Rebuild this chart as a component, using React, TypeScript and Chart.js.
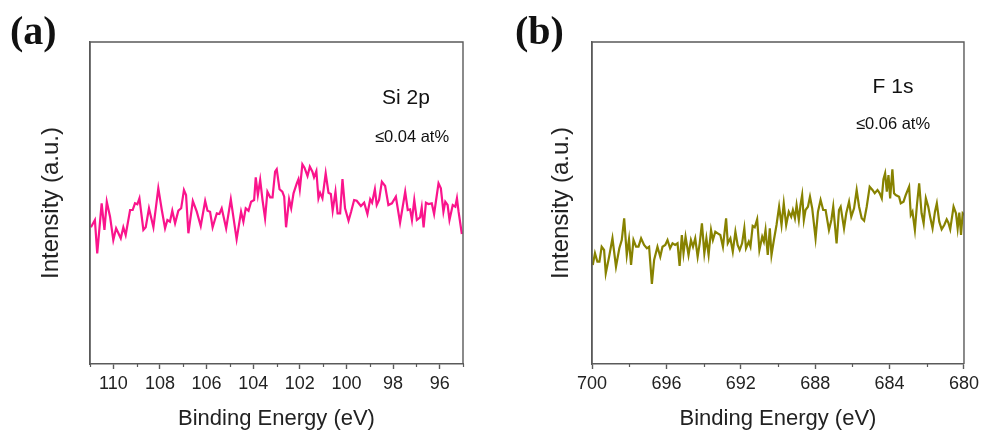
import React, { useEffect, useRef } from "react";
import { Chart, registerables } from "chart.js";

Chart.register(...registerables);

// Panel (a): Si 2p — binding energy (eV) and intensity (a.u.)
const siEnergy = [
  110.96, 110.79, 110.69, 110.5, 110.38, 110.28, 110.14, 110.0, 109.88, 109.68,
  109.57, 109.47, 109.28, 109.17, 109.07, 108.97, 108.88, 108.71, 108.61, 108.47,
  108.28, 108.07, 107.92, 107.78, 107.68, 107.57, 107.47, 107.35, 107.21, 107.09,
  106.97, 106.88, 106.78, 106.59, 106.42, 106.25, 106.06, 105.96, 105.85, 105.74,
  105.56, 105.45, 105.35, 105.16, 104.96, 104.71, 104.52, 104.42, 104.32, 104.2,
  104.09, 103.96, 103.89, 103.8, 103.7, 103.6, 103.49, 103.39, 103.27, 103.17,
  103.06, 102.99, 102.87, 102.75, 102.67, 102.59, 102.46, 102.37, 102.27, 102.13,
  102.06, 102.0, 101.89, 101.8, 101.67, 101.57, 101.46, 101.39, 101.29, 101.2,
  101.13, 101.03, 100.89, 100.77, 100.67, 100.59, 100.47, 100.38, 100.27, 100.17,
  100.06, 99.91, 99.8, 99.67, 99.56, 99.38, 99.24, 99.1, 98.98, 98.9,
  98.78, 98.7, 98.6, 98.48, 98.34, 98.2, 98.05, 97.88, 97.7, 97.48,
  97.37, 97.27, 97.19, 97.09, 96.98, 96.84, 96.77, 96.69, 96.59, 96.48,
  96.34, 96.24, 96.05, 95.95, 95.84, 95.76, 95.66, 95.58, 95.44, 95.33,
  95.26, 95.19, 95.05,
];
const siIntensity = [
  136.7, 144, 110.7, 160.7, 134, 162.3, 147.3, 124, 135.7, 125.7,
  136.7, 129, 154, 154, 160.7, 159.7, 165.7, 134, 136.7, 155.7,
  136.7, 175.7, 154, 135.7, 144, 142.3, 153.3, 140.7, 153.3, 155.7,
  174, 169, 130.7, 163, 152.3, 138, 163, 153.3, 152.3, 136.7,
  150.7, 150, 155.7, 135.7, 164.7, 124.7, 152.3, 142.3, 155.7, 153.3,
  162.3, 164, 186.7, 169, 184, 164, 145.7, 172.3, 166.7, 166.7,
  192.3, 194.7, 174.7, 172.3, 167.3, 136.7, 164.7, 155.7, 170.7, 180.7,
  184.7, 174.7, 199.7, 196.3, 188, 197.3, 192.3, 186.7, 193, 165.7,
  171.3, 165.7, 190.7, 171.3, 170, 153.3, 172.3, 150.7, 150.7, 185,
  155.7, 143.3, 152.3, 164, 163.3, 158, 161.3, 150, 164.7, 161.3,
  174.7, 159, 164, 182.3, 178, 159, 160.7, 167.3, 141.3, 172.3,
  154, 154.7, 144, 164, 144, 146.7, 156.7, 136.7, 161.3, 160,
  160.7, 150, 180.7, 175.7, 152.3, 162.3, 159, 144, 159, 157.3,
  165.7, 152.3, 130,
];
const siTicks = [110, 108, 106, 104, 102, 100, 98, 96];
const siMinorTicks = [111, 109, 107, 105, 103, 101, 99, 97, 95];

// Panel (b): F 1s
const fEnergy = [
  699.96, 699.84, 699.71, 699.6, 699.48, 699.35, 699.26, 699.08, 698.9, 698.71,
  698.53, 698.4, 698.27, 698.13, 698.01, 697.9, 697.77, 697.63, 697.5, 697.36,
  697.2, 697.05, 696.93, 696.78, 696.66, 696.48, 696.33, 696.21, 696.06, 695.94,
  695.8, 695.67, 695.53, 695.4, 695.29, 695.17, 695.08, 694.97, 694.81, 694.68,
  694.57, 694.45, 694.32, 694.21, 694.09, 693.96, 693.85, 693.73, 693.6, 693.5,
  693.37, 693.24, 693.1, 692.96, 692.79, 692.7, 692.56, 692.43, 692.29, 692.17,
  692.06, 691.93, 691.81, 691.72, 691.57, 691.48, 691.36, 691.25, 691.12, 691.0,
  690.85, 690.76, 690.67, 690.55, 690.44, 690.35, 690.22, 690.08, 689.94, 689.81,
  689.69, 689.56, 689.42, 689.29, 689.2, 689.09, 689.0, 688.88, 688.79, 688.7,
  688.61, 688.52, 688.39, 688.28, 688.16, 687.98, 687.85, 687.71, 687.57, 687.44,
  687.26, 687.13, 687.03, 686.85, 686.72, 686.63, 686.45, 686.33, 686.18, 686.06,
  685.91, 685.77, 685.64, 685.5, 685.37, 685.23, 685.07, 684.92, 684.8, 684.65,
  684.53, 684.42, 684.33, 684.24, 684.15, 684.06, 683.97, 683.85, 683.76, 683.67,
  683.49, 683.4, 683.25, 683.13, 682.95, 682.86, 682.77, 682.64, 682.53, 682.41,
  682.28, 682.17, 682.05, 681.92, 681.82, 681.69, 681.56, 681.46, 681.33, 681.2,
  681.06, 680.93, 680.84, 680.74, 680.56, 680.43, 680.34, 680.25, 680.16, 680.07,
  679.98,
];
const fIntensity = [
  99, 110.7, 102.3, 102.3, 117.3, 114, 90.7, 107.3, 125.7, 97.3,
  115.7, 124, 145.7, 109, 124.7, 99, 124, 117.3, 117.3, 125.7,
  119, 115.7, 117.3, 80, 104, 117.3, 107.3, 117.3, 119, 124,
  115.7, 120.7, 119, 120.7, 98, 129, 110.7, 127.3, 109, 124,
  117.3, 125.7, 107.3, 120.7, 140.7, 110.7, 125.7, 109, 134, 124,
  132.3, 130.7, 129, 117.3, 145.7, 120.7, 125.7, 112.3, 132.3, 119,
  114, 120.7, 135.7, 115.7, 122.3, 117.3, 138, 136.7, 144.7, 114,
  127.3, 122.3, 134, 109, 135.7, 109, 124, 139, 157.3, 139,
  160.7, 139, 152.3, 147.3, 154, 145.7, 159, 144, 159, 169,
  144, 154, 157.3, 167.3, 155.7, 125.7, 152.3, 164, 154, 154,
  134, 144, 157.3, 120.7, 154, 157.3, 135.7, 150.7, 162.3, 147.3,
  155.7, 174, 157.3, 145.7, 143.3, 157.3, 177.3, 174, 170.7, 174,
  170.7, 165.7, 184.7, 190.7, 172.3, 189, 165.7, 194.7, 170.7, 169,
  167.3, 160.7, 162.3, 169, 177.3, 149, 152.3, 134, 159, 180.7,
  150.7, 140.7, 165.7, 157.3, 147.3, 135.7, 152.3, 160.7, 142.3, 134.7,
  139, 144.7, 141.3, 134.7, 157.3, 150.7, 135.7, 151.3, 129, 150.7,
  149,
];
const fTicks = [700, 696, 692, 688, 684, 680];
const fMinorTicks = [698, 694, 690, 686, 682];

const AXIS_COLOR = "#5a5a5a";
const SANS = "Arial, 'Liberation Sans', sans-serif";

const frameAndMinor = {
  id: "frameAndMinor",
  afterDraw(chart: any, _args: any, opts: any) {
    const { ctx, chartArea } = chart;
    const xs = chart.scales.x;
    ctx.save();
    ctx.strokeStyle = AXIS_COLOR;
    ctx.lineWidth = 1.4;
    ctx.beginPath();
    ctx.moveTo(chartArea.left, chartArea.bottom);
    ctx.lineTo(chartArea.left, chartArea.top);
    ctx.lineTo(chartArea.right, chartArea.top);
    ctx.lineTo(chartArea.right, chartArea.bottom);
    ctx.stroke();
    ctx.lineWidth = 1.2;
    ctx.beginPath();
    for (const v of opts.minor || []) {
      const px = Math.round(xs.getPixelForValue(v)) + 0.5;
      ctx.moveTo(px, chartArea.bottom);
      ctx.lineTo(px, chartArea.bottom + 3);
    }
    ctx.stroke();
    ctx.restore();
  },
};

type PanelProps = {
  energy: number[];
  intensity: number[];
  color: string;
  xMin: number;
  xMax: number;
  ticks: number[];
  minor: number[];
  yAxisWidth: number;
  rightPad: number;
  titlePad: number;
  width: number;
};

function Panel(p: PanelProps) {
  const ref = useRef<HTMLCanvasElement>(null);
  useEffect(() => {
    const data = p.energy.map((e, i) => ({ x: e, y: p.intensity[i] }));
    const chart = new Chart(ref.current as HTMLCanvasElement, {
      type: "line",
      data: {
        datasets: [
          {
            data,
            borderColor: p.color,
            borderWidth: 2.2,
            pointRadius: 0,
            tension: 0,
            fill: false,
          },
        ],
      },
      options: {
        animation: false,
        responsive: false,
        maintainAspectRatio: false,
        layout: { padding: { left: 0, top: 42, right: p.rightPad, bottom: 0 } },
        plugins: {
          legend: { display: false },
          tooltip: { enabled: false },
          frameAndMinor: { minor: p.minor },
        } as any,
        scales: {
          x: {
            type: "linear",
            reverse: true,
            min: p.xMin,
            max: p.xMax,
            afterBuildTicks: (scale: any) => {
              scale.ticks = p.ticks.map((v) => ({ value: v }));
            },
            afterFit: (scale: any) => {
              scale.height = 70;
            },
            grid: {
              drawOnChartArea: false,
              drawTicks: true,
              tickLength: 5,
              tickColor: AXIS_COLOR,
              tickWidth: 1.4,
            },
            border: { display: true, color: AXIS_COLOR, width: 1.4 },
            ticks: {
              autoSkip: false,
              maxRotation: 0,
              padding: 4,
              color: "#222",
              font: { family: SANS, size: 18 },
              callback: (v: any) => String(v),
            },
            title: {
              display: true,
              text: "Binding Energy (eV)",
              color: "#222",
              font: { family: SANS, size: 22 },
              padding: { top: 0, bottom: 2 },
            },
          },
          y: {
            type: "linear",
            min: 0,
            max: 322,
            afterFit: (scale: any) => {
              scale.width = p.yAxisWidth;
            },
            grid: { drawOnChartArea: false, drawTicks: false },
            border: { display: true, color: AXIS_COLOR, width: 1.4 },
            ticks: { display: false },
            title: {
              display: true,
              text: "Intensity (a.u.)",
              color: "#222",
              font: { family: SANS, size: 24 },
              padding: { top: p.titlePad, bottom: 0 },
            },
          },
        },
      },
      plugins: [frameAndMinor],
    } as any);
    return () => chart.destroy();
  }, []);
  return <canvas ref={ref} width={p.width} height={434} style={{ display: "block", width: p.width, height: 434 }} />;
}

const labelStyle: React.CSSProperties = {
  position: "absolute",
  fontFamily: "'Liberation Serif', 'Times New Roman', serif",
  fontWeight: "bold",
  fontSize: 40,
  lineHeight: "40px",
  color: "#111",
};

const annot = (x: number, y: number, size: number): React.CSSProperties => ({
  position: "absolute",
  left: x,
  top: y,
  transform: "translate(-50%, -50%)",
  fontFamily: SANS,
  fontSize: size,
  color: "#111",
  whiteSpace: "nowrap",
  lineHeight: 1,
});

export default function App() {
  return (
    <div style={{ position: "fixed", left: 0, top: 0, width: 983, height: 434, background: "#fff", overflow: "hidden" }}>
      <div style={{ position: "absolute", left: 0, top: 0 }}>
        <Panel
          energy={siEnergy}
          intensity={siIntensity}
          color="rgb(250,20,140)"
          xMin={95}
          xMax={111}
          ticks={siTicks}
          minor={siMinorTicks}
          yAxisWidth={90}
          rightPad={28}
          titlePad={37}
          width={491}
        />
      </div>
      <div style={{ position: "absolute", left: 491, top: 0 }}>
        <Panel
          energy={fEnergy}
          intensity={fIntensity}
          color="rgb(135,130,0)"
          xMin={680}
          xMax={700}
          ticks={fTicks}
          minor={fMinorTicks}
          yAxisWidth={101}
          rightPad={19}
          titlePad={56}
          width={492}
        />
      </div>
      <div style={{ ...labelStyle, left: 10, top: 11 }}>(a)</div>
      <div style={{ ...labelStyle, left: 515, top: 11 }}>(b)</div>
      <div style={annot(406, 96, 21)}>Si 2p</div>
      <div style={annot(412, 136, 16.5)}>≤0.04 at%</div>
      <div style={annot(893, 85, 21)}>F 1s</div>
      <div style={annot(893, 123, 16.5)}>≤0.06 at%</div>
    </div>
  );
}
